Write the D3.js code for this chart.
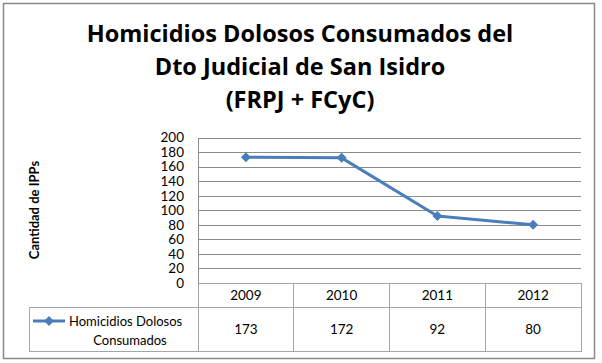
<!DOCTYPE html>
<html>
<head>
<meta charset="utf-8">
<script src="https://cdn.jsdelivr.net/npm/d3@7"></script>
<style>
  body { margin: 0; background: #fff; }
  text { font-family: Lato, "Open Sans", sans-serif; fill: #000; }
</style>
</head>
<body>
<svg width="602" height="363"></svg>
<script>
var titleLines = ['Homicidios Dolosos Consumados del', 'Dto Judicial de San Isidro', '(FRPJ + FCyC)'];
var years = ['2009', '2010', '2011', '2012'];
var values = [173, 172, 92, 80];
var yTicks = [0, 20, 40, 60, 80, 100, 120, 140, 160, 180, 200];
var seriesName = ['Homicidios Dolosos', 'Consumados'];
var axisTitle = 'Cantidad de IPPs';

var svg = d3.select('svg');
var blue = '#4a7ebb',
  grid = '#8c8c8c',
  cellLine = '#a6a6a6';

var plotLeft = 198, plotRight = 581, plotTop = 137.5, plotBottom = 283;
var row1 = 307, row2 = 351, legendLeft = 29;

// outer frame
svg.append('rect')
  .attr('x', 3.5).attr('y', 3.5)
  .attr('width', 591).attr('height', 355)
  .attr('fill', '#fff')
  .attr('stroke', '#8a8a8a')
  .attr('stroke-width', 1.5);

// title
svg.append('g')
  .selectAll('text')
  .data(titleLines)
  .enter()
  .append('text')
  .attr('x', 300)
  .attr('y', (d, i) => 42 + i * 33)
  .attr('text-anchor', 'middle')
  .style('font-family', '"Open Sans", sans-serif')
  .style('font-size', '23.5px')
  .style('font-weight', 'bold')
  .text((d) => d);

var x = d3.scaleBand().domain(years).range([plotLeft, plotRight]);
var y = d3.scaleLinear().domain([0, 200]).range([plotBottom, plotTop]);

// gridlines
svg.append('g')
  .attr('transform', 'translate(' + plotLeft + ',0)')
  .call(d3.axisLeft(y).tickValues(yTicks).tickSize(-(plotRight - plotLeft)).tickFormat(''))
  .call((g) => g.select('.domain').remove())
  .selectAll('line')
  .attr('stroke', grid)
  .attr('stroke-width', 1)
  .attr('shape-rendering', 'crispEdges');

svg.append('line')
  .attr('x1', plotLeft).attr('x2', plotLeft)
  .attr('y1', plotTop).attr('y2', row2)
  .attr('stroke', grid)
  .attr('shape-rendering', 'crispEdges');

// tick labels
svg.append('g')
  .attr('transform', 'translate(184,0)')
  .call(d3.axisLeft(y).tickValues(yTicks).tickSize(0).tickPadding(0))
  .call((g) => g.select('.domain').remove())
  .selectAll('text')
  .style('font-family', 'Lato, "Open Sans", sans-serif')
  .style('font-size', '13.5px')
  .attr('fill', '#000');

// axis title
svg.append('text')
  .attr('transform', 'translate(39,210) rotate(-90)')
  .attr('text-anchor', 'middle')
  .style('font-size', '13px')
  .style('font-weight', 'bold')
  .text(axisTitle);

// data table
var table = svg.append('g').attr('stroke', cellLine).attr('fill', 'none').attr('shape-rendering', 'crispEdges');
table.selectAll('rect.hdr')
  .data(years)
  .enter()
  .append('rect')
  .attr('x', (d) => x(d))
  .attr('y', plotBottom)
  .attr('width', x.bandwidth())
  .attr('height', row1 - plotBottom);
table.selectAll('rect.val')
  .data(years)
  .enter()
  .append('rect')
  .attr('x', (d) => x(d))
  .attr('y', row1)
  .attr('width', x.bandwidth())
  .attr('height', row2 - row1);
table.append('rect')
  .attr('x', legendLeft)
  .attr('y', row1)
  .attr('width', plotLeft - legendLeft)
  .attr('height', row2 - row1);

svg.append('g')
  .selectAll('text')
  .data(years)
  .enter()
  .append('text')
  .attr('x', (d) => x(d) + x.bandwidth() / 2)
  .attr('y', (plotBottom + row1) / 2 + 5)
  .attr('text-anchor', 'middle')
  .style('font-size', '13.5px')
  .text((d) => d);

svg.append('g')
  .selectAll('text')
  .data(values)
  .enter()
  .append('text')
  .attr('x', (d, i) => x(years[i]) + x.bandwidth() / 2)
  .attr('y', (row1 + row2) / 2 + 5)
  .attr('text-anchor', 'middle')
  .style('font-size', '13.5px')
  .text((d) => d);

// legend key
var marker = d3.symbol().type(d3.symbolSquare).size(50);
svg.append('line')
  .attr('x1', 33).attr('x2', 65)
  .attr('y1', 321).attr('y2', 321)
  .attr('stroke', blue)
  .attr('stroke-width', 3);
svg.append('path')
  .attr('d', marker())
  .attr('transform', 'translate(49,321) rotate(45)')
  .attr('fill', blue);
svg.append('text')
  .attr('x', 69)
  .attr('y', 326)
  .style('font-size', '13px')
  .text(seriesName[0]);
svg.append('text')
  .attr('x', 130)
  .attr('y', 345)
  .attr('text-anchor', 'middle')
  .style('font-size', '13px')
  .text(seriesName[1]);

// series line
var line = d3.line()
  .x((d, i) => x(years[i]) + x.bandwidth() / 2)
  .y((d) => y(d));

svg.append('path')
  .datum(values)
  .attr('d', line)
  .attr('fill', 'none')
  .attr('stroke', blue)
  .attr('stroke-width', 3)
  .attr('stroke-linejoin', 'round');

svg.append('g')
  .selectAll('path')
  .data(values)
  .enter()
  .append('path')
  .attr('d', marker())
  .attr('transform', (d, i) => 'translate(' + (x(years[i]) + x.bandwidth() / 2) + ',' + y(d) + ') rotate(45)')
  .attr('fill', blue);
</script>
</body>
</html>
